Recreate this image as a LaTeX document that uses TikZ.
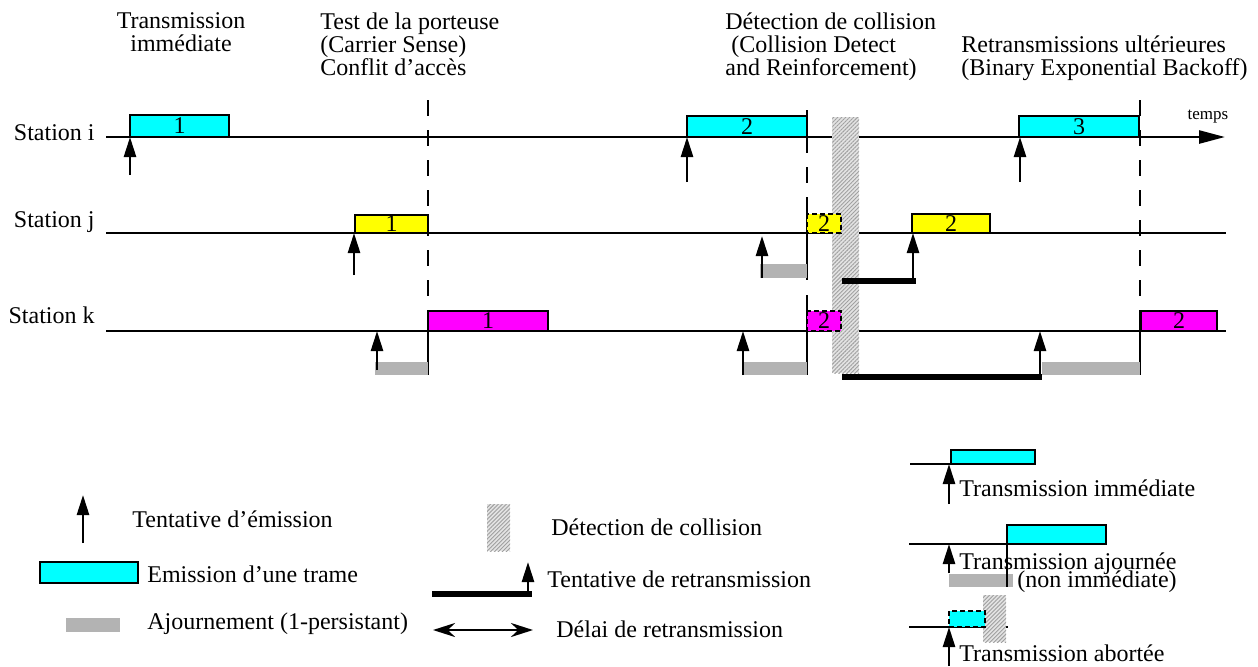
\documentclass[tikz,border=0pt]{standalone}
\usepackage{fontspec}
\setmainfont{Liberation Serif}
\usetikzlibrary{arrows.meta,patterns.meta}
\definecolor{cyanvif}{RGB}{0,255,255}
\definecolor{jaunevif}{RGB}{255,255,0}
\definecolor{magentavif}{RGB}{255,0,255}
\definecolor{gris}{RGB}{179,179,179}
\tikzstyle{ligne}=[line width=1.3pt]
\tikzstyle{trame}=[draw,line width=1.3pt]
\tikzstyle{avortee}=[draw,line width=1.3pt,dash pattern=on 2.5pt off 1.5pt]
\tikzstyle{pointille}=[line width=1.3pt,dash pattern=on 8pt off 7pt]
\tikzstyle{tentative}=[line width=1.3pt,-{Triangle[length=10pt,width=6pt]}]
\tikzstyle{texte}=[inner sep=0pt,font=\fontsize{12}{11.5}\selectfont]
\newcommand{\trame}[8][trame]{% [style]{name}{colour}{x1}{y1}{x2}{y2}{label}
  \path[#1,fill=#3] (#4,#5) rectangle (#6,#7);
  \node[texte] (#2) at ({(#4+#6)/2},{(#5+#7)/2}) {#8};
}
\newcommand{\tentative}[3]{% x, from y, to y
  \draw[tentative] (#1,#2) -- (#1,#3);
}
\newcommand{\ajournement}[4]{\fill[gris] (#1,#2) rectangle (#3,#4);}
\newcommand{\retrans}[4]{\fill[black] (#1,#2) rectangle (#3,#4);}
\newcommand{\collision}[4]{
  \fill[gray!22] (#1,#2) rectangle (#3,#4);
  \fill[pattern={Lines[angle=45,distance=1.4pt,line width=0.45pt]},pattern color=gray!75] (#1,#2) rectangle (#3,#4);
}

\begin{document}
\begin{tikzpicture}[x=0.5pt,y=-0.5pt]
\useasboundingbox (0,0) rectangle (1258,666);
% titres
\node[texte,align=center,anchor=north] (immediate) at (181,12) {Transmission\\immédiate};
\node[texte,align=left,anchor=north west] (porteuse) at (320,12) {Test de la porteuse\\(Carrier Sense)\\Conflit d’accès};
\node[texte,align=left,anchor=north west] (detection) at (725,12) {Détection de collision\\\hspace*{0.25em}(Collision Detect\\and Reinforcement)};
\node[texte,align=left,anchor=north west] (backoff) at (961,35) {Retransmissions ultérieures\\(Binary Exponential Backoff)};

% stations
\foreach \nom/\y/\b in {i/137/140,j/233/227,k/331/323}
  \node[texte,anchor=base east] (station\nom) at (95,\b) {Station \nom};
\draw[ligne,-{Triangle[length=13pt,width=6.5pt]}] (106,137) -- (1225,137);
\draw[ligne] (106,233) -- (1226,233);
\draw[ligne] (106,331) -- (1226,331);
\node[inner sep=0pt,font=\fontsize{8.5}{10}\selectfont] (temps) at (1208,117) {temps};

% fronts
\draw[pointille] (428,100) -- (428,311);
\draw[ligne] (428,311) -- (428,375);
\draw[ligne] (807,110) -- (807,137);
\draw[pointille] (807,137) -- (807,203);
\draw[ligne] (807,203) -- (807,280);
\draw[ligne] (807,295) -- (807,375);
\draw[pointille] (1140,100) -- (1140,311);
\draw[ligne] (1140,311) -- (1140,375);

\collision{832}{117}{859}{373}

% station i
\trame{ia}{cyanvif}{130}{115}{229}{137}{1}
\trame{ib}{cyanvif}{687}{116}{807}{137}{2}
\trame{ic}{cyanvif}{1019}{116}{1139}{137}{3}
\tentative{130}{175}{137}
\tentative{687}{182}{137}
\tentative{1020}{182}{137}

% station j
\trame{ja}{jaunevif}{355}{215}{428}{233}{1}
\trame[avortee]{jb}{jaunevif}{807}{214}{841}{233}{2}
\trame{jc}{jaunevif}{912}{214}{990}{233}{2}
\tentative{354}{275}{233}
\ajournement{760}{264}{807}{278}
\tentative{762}{278}{236}
\retrans{842}{278}{916}{284}
\tentative{913}{281}{233}

% station k
\trame{ka}{magentavif}{428}{311}{548}{331}{1}
\trame[avortee]{kb}{magentavif}{807}{311}{841}{331}{2}
\trame{kc}{magentavif}{1141}{311}{1217}{331}{2}
\ajournement{375}{362}{428}{375}
\tentative{377}{370}{331}
\ajournement{743}{362}{807}{375}
\tentative{743}{375}{331}
\retrans{842}{374}{1042}{380}
\ajournement{1042}{362}{1140}{375}
\tentative{1040}{377}{331}

% legende
\tentative{83}{543}{495}
\node[texte,anchor=west] (legA) at (132,519) {Tentative d’émission};
\path[trame,fill=cyanvif] (40,562) rectangle (138,583);
\node[texte,anchor=west] (legB) at (147,574) {Emission d’une trame};
\ajournement{66}{618}{120}{632}
\node[texte,anchor=west] (legC) at (147,624) {Ajournement (1-persistant)};

\collision{487}{504}{510}{551}
\node[texte,anchor=west] (legD) at (551,527) {Détection de collision};
\retrans{432}{591}{532}{597}
\tentative{528}{594}{562}
\node[texte,anchor=west] (legE) at (547,579) {Tentative de retransmission};
\draw[line width=1.3pt,{Stealth[length=11pt,width=7pt]}-{Stealth[length=11pt,width=7pt]}] (433,630) -- (533,630);
\node[texte,anchor=west] (legF) at (556,629) {Délai de retransmission};

\draw[ligne] (910,464) -- (951,464);
\path[trame,fill=cyanvif] (951,450) rectangle (1035,464);
\tentative{949}{504}{464}
\node[texte,anchor=west] (legG) at (959,488) {Transmission immédiate};

\draw[ligne] (909,544) -- (1007,544);
\ajournement{949}{574}{1013}{587}
\path[trame,fill=cyanvif] (1007,525) rectangle (1106,544);
\draw[ligne] (1007,544) -- (1007,587);
\tentative{949}{573}{544}
\node[texte,anchor=west] (legH) at (959,564) {Transmission ajournée};
\node[texte,anchor=west] (legI) at (1017,582) {(non immédiate)};

\draw[ligne] (909,627) -- (1008,627);
\collision{983}{595}{1006}{642}
\path[avortee,fill=cyanvif] (949,611) rectangle (985,627);
\tentative{949}{666}{627}
\node[texte,anchor=west] (legJ) at (959,653) {Transmission abortée};
\end{tikzpicture}
\end{document}
